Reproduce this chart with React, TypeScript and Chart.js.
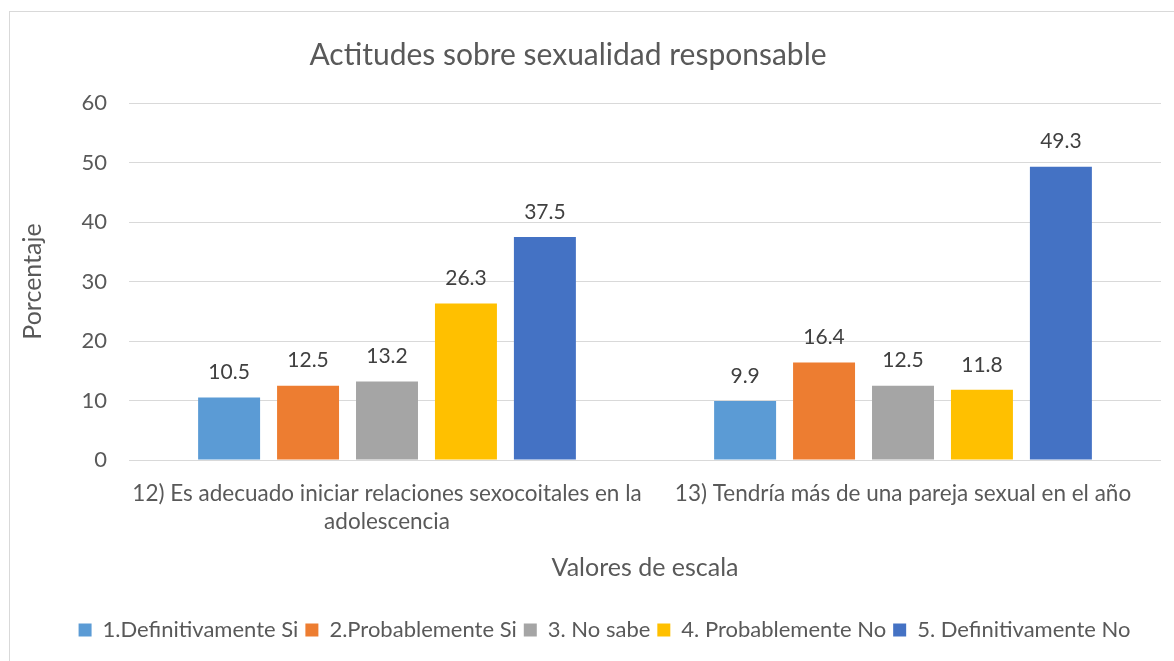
import React, { useEffect, useRef } from "react";
import { Chart, registerables } from "chart.js";

Chart.register(...registerables);

const categories: (string | string[])[] = [
  ["12) Es adecuado iniciar relaciones sexocoitales en la", "adolescencia"],
  "13) Tendría más de una pareja sexual en el año",
];
const seriesNames = [
  "1.Definitivamente Si",
  "2.Probablemente Si",
  "3. No sabe",
  "4. Probablemente No",
  "5. Definitivamente No",
];
const definitivamenteSi = [10.5, 9.9];
const probablementeSi = [12.5, 16.4];
const noSabe = [13.2, 12.5];
const probablementeNo = [26.3, 11.8];
const definitivamenteNo = [37.5, 49.3];
const yTicks = [0, 10, 20, 30, 40, 50, 60];

const colors = ["#5B9BD5", "#ED7D31", "#A5A5A5", "#FFC000", "#4472C4"];
const FONT = "Lato, 'Open Sans', sans-serif";

const dataLabelPlugin = {
  id: "dataLabels",
  afterDatasetsDraw(chart: any) {
    const ctx = chart.ctx;
    ctx.save();
    ctx.font = `21px ${FONT}`;
    ctx.fillStyle = "#404040";
    ctx.textAlign = "center";
    ctx.textBaseline = "middle";
    chart.data.datasets.forEach((ds: any, i: number) => {
      const meta = chart.getDatasetMeta(i);
      meta.data.forEach((el: any, j: number) => {
        ctx.fillText(ds.data[j].toFixed(1), el.x, el.y - 25);
      });
    });
    ctx.restore();
  },
};

const shiftPlugin = {
  id: "shiftBlocks",
  afterLayout(chart: any) {
    const t = chart.titleBlock;
    if (t) {
      t.right = t.right - 35;
    }
    const l = chart.legend;
    if (l) {
      l.left = l.left + 38;
    }
  },
};

export default function App() {
  const ref = useRef<HTMLCanvasElement | null>(null);
  useEffect(() => {
    if (!ref.current) return;
    const seriesData = [definitivamenteSi, probablementeSi, noSabe, probablementeNo, definitivamenteNo];
    const chart = new Chart(ref.current, {
      type: "bar",
      data: {
        labels: categories,
        datasets: seriesNames.map((name, i) => ({
          label: name,
          data: seriesData[i],
          backgroundColor: colors[i],
          borderWidth: 0,
          categoryPercentage: 0.765,
          barPercentage: 0.785,
        })),
      },
      options: {
        responsive: false,
        animation: false,
        devicePixelRatio: 1,
        layout: { padding: { left: 0, right: 13, top: 0, bottom: 10 } },
        plugins: {
          title: {
            display: true,
            text: "Actitudes sobre sexualidad responsable",
            color: "#595959",
            font: { family: FONT, size: 30, weight: "normal", lineHeight: 1.2 },
            padding: { top: 25, bottom: 30 },
          },
          legend: {
            display: true,
            position: "bottom",
            labels: {
              color: "#595959",
              font: { family: FONT, size: 22 },
              boxWidth: 13,
              boxHeight: 13,
              padding: 7,
            },
          },
          tooltip: { enabled: false },
        },
        scales: {
          x: {
            grid: { display: false, drawTicks: false },
            border: { display: false },
            ticks: {
              color: "#595959",
              font: { family: FONT, size: 22.5, lineHeight: 1.244 },
              padding: 20,
              maxRotation: 0,
              autoSkip: false,
            },
            title: {
              display: true,
              text: "Valores de escala",
              color: "#595959",
              font: { family: FONT, size: 25, lineHeight: 1.2 },
              padding: { top: 0, bottom: 29 },
            },
            afterFit(scale: any) {
              scale.height = 152;
            },
          },
          y: {
            min: 0,
            max: 60,
            afterBuildTicks(scale: any) {
              scale.ticks = yTicks.map((v) => ({ value: v }));
            },
            grid: { color: "#D9D9D9", lineWidth: 1, drawTicks: false },
            border: { display: false },
            ticks: {
              color: "#595959",
              font: { family: FONT, size: 22 },
              padding: 22,
            },
            title: {
              display: true,
              text: "Porcentaje",
              color: "#595959",
              font: { family: FONT, size: 25, lineHeight: 1.2 },
              padding: { top: 8 },
            },
            afterFit(scale: any) {
              scale.width = 119;
            },
          },
        },
      },
      plugins: [dataLabelPlugin, shiftPlugin],
    });
    return () => chart.destroy();
  }, []);

  return (
    <div
      style={{
        position: "absolute",
        left: 9,
        top: 11,
        width: 1164,
        height: 649,
        borderLeft: "1px solid #D9D9D9",
        borderTop: "1px solid #D9D9D9",
        background: "#fff",
      }}
    >
      <canvas ref={ref} width={1164} height={649} style={{ display: "block" }} />
    </div>
  );
}
